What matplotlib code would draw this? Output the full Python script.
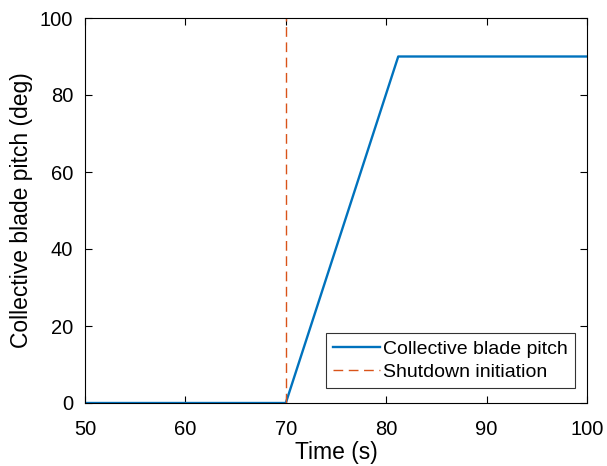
import numpy as np
import matplotlib.pyplot as plt

plt.rcParams['font.family'] = ['Liberation Sans', 'DejaVu Sans']

# pitch command: flat until shutdown, linear ramp, then held at 90 deg
time_s = [50, 70, 81.2, 100]
pitch_deg = [0, 0, 90, 90]
shutdown_time = 70

fig = plt.figure(figsize=(6.07, 4.66), dpi=100)
ax = fig.add_axes([85 / 607, 1 - 403 / 466, 502 / 607, 385 / 466])

ax.plot(time_s, pitch_deg, color='#0072BD', lw=1.7, label='Collective blade pitch')
ax.axvline(shutdown_time, color='#D95319', lw=1.0, ls=(0, (7, 4)), label='Shutdown initiation')

ax.set_xlim(50, 100)
ax.set_ylim(0, 100)
ax.set_xticks(np.arange(50, 101, 10))
ax.set_yticks(np.arange(0, 101, 20))
ax.tick_params(direction='in', top=True, right=True, labelsize=14.5, length=5)
ax.tick_params(axis='x', pad=12.5)
ax.tick_params(axis='y', pad=8.5)
for s in ax.spines.values():
    s.set_linewidth(0.8)

ax.set_xlabel('Time (s)', fontsize=16.5, labelpad=1.5)
ax.set_ylabel('Collective blade pitch (deg)', fontsize=16.5, labelpad=5)

leg = ax.legend(loc='lower right', bbox_to_anchor=(0.976, 0.039), borderaxespad=0,
                fontsize=14, frameon=True, fancybox=False, edgecolor='black',
                handlelength=2.4, handletextpad=0.2, borderpad=0.35, labelspacing=0.3)
leg.get_frame().set_linewidth(0.8)

fig.savefig('out.png', dpi=100)
